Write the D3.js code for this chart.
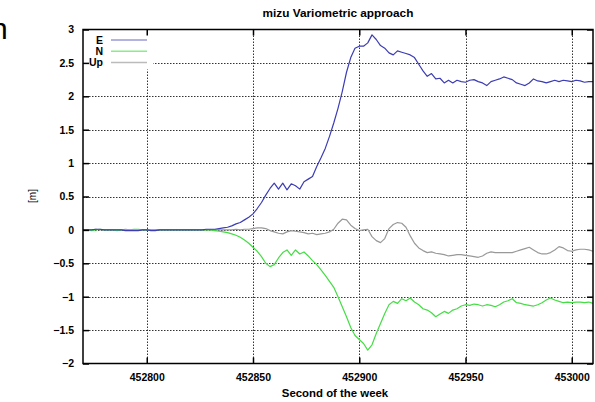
<!DOCTYPE html>
<html><head><meta charset="utf-8">
<script src="https://cdn.jsdelivr.net/npm/d3@7/dist/d3.min.js"></script>
<style>body{margin:0;background:#fff}svg{display:block}text{font-family:"Liberation Sans",Arial,sans-serif;fill:#000}</style>
</head><body>
<script>
// time axis: second of the week, every 2 s from 452770 to 453010
const tStart = 452770, tStep = 2;
const E = [0,0,0,0.01,0.01,0,0,0,0,0,-0.01,-0.01,-0.01,-0.01,0,0,-0.01,-0.01,0,0,0,0,0,0,0,0,0,0,0,0.01,0.01,
 0.01,0.02,0.03,0.04,0.06,0.09,0.11,0.15,0.19,0.24,0.32,0.41,0.52,0.62,0.70,0.61,0.70,0.60,0.69,0.66,0.61,0.72,0.76,0.80,0.95,1.08,1.22,1.40,1.60,1.82,2.07,2.36,2.58,2.72,2.75,
 2.75,2.80,2.92,2.85,2.76,2.72,2.65,2.62,2.68,2.66,2.64,2.62,2.58,2.48,2.38,2.30,2.34,2.26,2.27,2.20,2.24,2.20,2.24,2.22,2.21,2.24,2.25,2.22,2.20,2.16,2.22,2.24,2.26,2.29,2.27,2.25,2.20,2.18,2.16,2.20,2.26,2.23,2.22,2.20,2.22,2.24,2.22,2.24,2.23,2.22,2.24,2.23,2.21,2.22,2.22];
const N = [0,0,-0.01,0,0.01,0,0,0,-0.01,0,0,0,0.01,0.01,0,0,0,0,0,0,0,0,0,0,0,0,0,0,0,0,0,
 -0.01,-0.02,-0.03,-0.04,-0.06,-0.08,-0.11,-0.15,-0.20,-0.26,-0.32,-0.40,-0.50,-0.55,-0.52,-0.42,-0.34,-0.30,-0.38,-0.30,-0.36,-0.33,-0.39,-0.46,-0.52,-0.60,-0.68,-0.77,-0.86,-1.00,-1.15,-1.30,-1.46,-1.58,-1.64,
 -1.70,-1.80,-1.72,-1.55,-1.40,-1.25,-1.12,-1.07,-1.10,-1.03,-1.06,-1.02,-1.08,-1.12,-1.18,-1.20,-1.24,-1.30,-1.26,-1.22,-1.25,-1.20,-1.18,-1.14,-1.12,-1.13,-1.11,-1.12,-1.14,-1.12,-1.13,-1.15,-1.12,-1.08,-1.06,-1.03,-1.09,-1.10,-1.12,-1.13,-1.14,-1.12,-1.09,-1.05,-1.02,-1.05,-1.07,-1.09,-1.08,-1.09,-1.08,-1.08,-1.09,-1.08,-1.10];
const Up = [0,0,0,0.01,0,0,0,0,0,0,0.01,0,0,0,0,0,0,0,0,0,0,0,0,0,0,0,0,0,0,0,0,
 0,0,0,0,0,0.01,0,0.01,0.01,0.02,0.03,0.03,0.02,-0.01,-0.03,-0.05,-0.06,-0.03,-0.01,-0.02,-0.03,-0.04,-0.06,-0.05,-0.07,-0.06,-0.05,-0.03,0.01,0.10,0.16,0.15,0.07,0.02,-0.01,
 0,0.01,-0.10,-0.16,-0.19,-0.13,0.02,0.08,0.11,0.10,0.04,-0.09,-0.20,-0.27,-0.31,-0.34,-0.33,-0.35,-0.36,-0.37,-0.39,-0.38,-0.37,-0.37,-0.38,-0.39,-0.40,-0.41,-0.39,-0.35,-0.33,-0.34,-0.34,-0.34,-0.34,-0.34,-0.32,-0.30,-0.28,-0.26,-0.30,-0.34,-0.36,-0.36,-0.34,-0.30,-0.25,-0.27,-0.31,-0.32,-0.30,-0.29,-0.29,-0.30,-0.32];
const seconds = E.map((_, i) => tStart + i * tStep);
const xTicks = [452800, 452850, 452900, 452950, 453000];
const yTicks = [-2, -1.5, -1, -0.5, 0, 0.5, 1, 1.5, 2, 2.5, 3];
const seriesNames = ["E", "N", "Up"];
const seriesColors = ["#3c3cb4", "#44dd44", "#999999"];
const legendColors = ["#9a9ad4", "#88ee88", "#bbbbbb"];
const seriesData = [E, N, Up];

const W = 595, H = 402;
const L = 83, R = 593, T = 29.5, B = 363.5;
const svg = d3.select("body").append("svg").attr("width", W).attr("height", H);
const x = d3.scaleLinear().domain([452770, 453010]).range([L, R]);
const y = d3.scaleLinear().domain([-2, 3]).range([B, T]);

// grid
const grid = svg.append("g").attr("stroke", "#333").attr("stroke-width", 1).attr("stroke-dasharray", "1.5,1.5");
grid.selectAll(".gx").data(xTicks).join("line")
  .attr("x1", d => Math.round(x(d)) + 0.5).attr("x2", d => Math.round(x(d)) + 0.5).attr("y1", T).attr("y2", B);
grid.selectAll(".gy").data(yTicks.filter(d => d > -2 && d < 3)).join("line")
  .attr("y1", d => Math.round(y(d)) + 0.5).attr("y2", d => Math.round(y(d)) + 0.5).attr("x1", L).attr("x2", R);

// legend background
svg.append("rect").attr("x", L + 1).attr("y", T + 1).attr("width", 69).attr("height", 39).attr("fill", "#fff");

// lines
const line = d3.line().x((d, i) => x(seconds[i])).y(d => y(d));
[2, 1, 0].forEach(k => {
  svg.append("path").datum(seriesData[k]).attr("d", line)
    .attr("fill", "none").attr("stroke", seriesColors[k]).attr("stroke-width", 1.2).attr("stroke-linejoin", "round");
});

// border
svg.append("rect").attr("x", L).attr("y", T).attr("width", R - L).attr("height", B - T)
  .attr("fill", "none").attr("stroke", "#000").attr("stroke-width", 1.5);

// axes (ticks inward, mirrored)
const tl = 6;
const axB = svg.append("g").attr("transform", `translate(0,${B})`)
  .call(d3.axisBottom(x).tickValues(xTicks).tickFormat(d3.format("d")).tickSizeInner(-tl).tickSizeOuter(0).tickPadding(10));
const axT = svg.append("g").attr("transform", `translate(0,${T})`)
  .call(d3.axisTop(x).tickValues(xTicks).tickFormat("").tickSizeInner(-tl).tickSizeOuter(0));
const axL = svg.append("g").attr("transform", `translate(${L},0)`)
  .call(d3.axisLeft(y).tickValues(yTicks).tickFormat(d3.format("")).tickSizeInner(-tl).tickSizeOuter(0).tickPadding(9));
const axR = svg.append("g").attr("transform", `translate(${R},0)`)
  .call(d3.axisRight(y).tickValues(yTicks).tickFormat("").tickSizeInner(-tl).tickSizeOuter(0));
[axB, axT, axL, axR].forEach(a => {
  a.select(".domain").remove();
  a.selectAll(".tick line").attr("stroke", "#000").attr("stroke-width", 1.5);
  a.selectAll("text").attr("font-size", 10.5).attr("font-family", "Liberation Sans, Arial, sans-serif").style("font-weight", "bold").attr("fill", "#000");
});

// legend
const lg = svg.append("g");
seriesNames.forEach((n, i) => {
  const yy = 40 + i * 11.2;
  lg.append("text").attr("x", 103).attr("y", yy).attr("dy", "0.35em").attr("text-anchor", "end").attr("font-size", 10.5).style("font-weight", "bold").text(n);
  lg.append("line").attr("x1", 111).attr("x2", 147).attr("y1", yy).attr("y2", yy)
    .attr("stroke", legendColors[i]).attr("stroke-width", 1.5);
});

// titles
svg.append("text").attr("x", 338).attr("y", 17).attr("text-anchor", "middle").attr("font-size", 11.8).style("font-weight", "bold").text("mizu Variometric approach");
svg.append("text").attr("x", 335).attr("y", 397).attr("text-anchor", "middle").attr("font-size", 11.4).style("font-weight", "bold").text("Second of the week");
svg.append("text").attr("transform", "translate(36,196) rotate(-90)").attr("text-anchor", "middle").attr("font-size", 10).style("font-weight", "normal").text("[m]");
svg.append("text").attr("x", -9).attr("y", 39).attr("font-size", 30).style("font-weight", "normal").text("n");
</script>
</body></html>
